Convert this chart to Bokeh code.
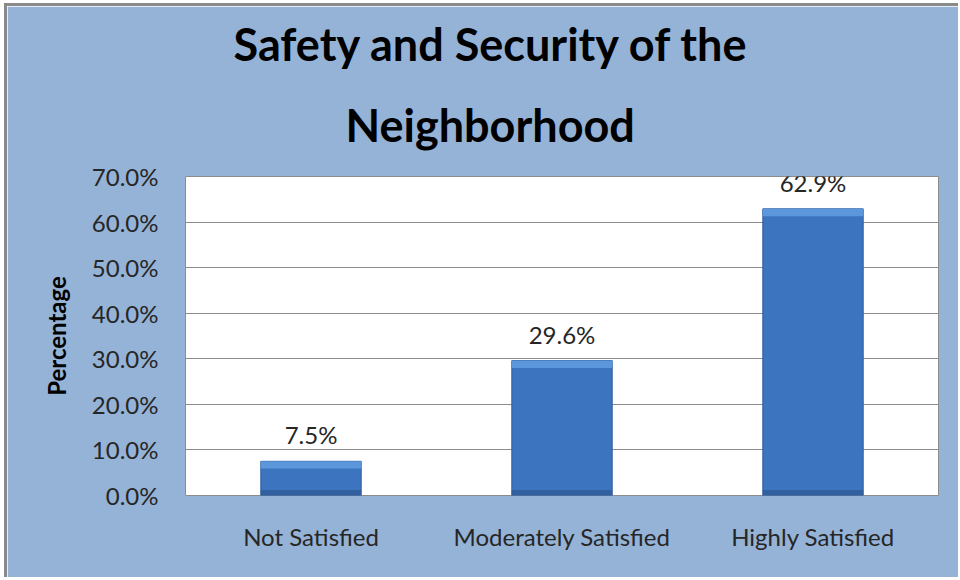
from bokeh.plotting import figure
from bokeh.models import ColumnDataSource, Title, PrintfTickFormatter, FixedTicker
from bokeh.embed import file_html
from bokeh.resources import INLINE
from bokeh.core.properties import value

categories = ["Not Satisfied", "Moderately Satisfied", "Highly Satisfied"]
percentages = [7.5, 29.6, 62.9]
y_ticks = [0, 10, 20, 30, 40, 50, 60, 70]
title_line1 = "Safety and Security of the"
title_line2 = "Neighborhood"
y_label = "Percentage"

FONT = "Lato"
BG = "#95B3D7"

labels = ["%.1f%%" % v for v in percentages]
src = ColumnDataSource(dict(
    x=categories, top=percentages, label=labels,
    band_bottom=[t - 1.6 for t in percentages],
    low_top=[1.2] * len(percentages),
))

p = figure(x_range=categories, y_range=(0, 70), width=954, height=574,
           output_backend="svg", toolbar_location=None,
           min_border_left=178, min_border_right=23,
           min_border_top=170, min_border_bottom=85,
           background_fill_color="white", border_fill_color=BG)
p.styles = {"border-top": "3px solid #8a8a8a", "border-left": "3px solid #8a8a8a",
            "margin-top": "3px", "margin-left": "4px"}

p.title.visible = False
p.add_layout(Title(text=title_line2, align="left", offset=160, text_font=FONT,
                   text_font_size="45px", text_font_style="bold",
                   text_color="black", standoff=50), "above")
p.add_layout(Title(text=title_line1, align="left", offset=48, text_font=FONT,
                   text_font_size="45px", text_font_style="bold",
                   text_color="black", standoff=0), "above")

# shadow
p.vbar(x="x", top=0, bottom=-0.7, width=0.4, source=src,
       fill_color="#5f7594", line_color=None, fill_alpha=0.45)
# main body
p.vbar(x="x", top="top", bottom=0, width=0.4, source=src,
       fill_color="#3D74BF", line_color="#2F5E9E", line_width=1)
# darker bottom band
p.vbar(x="x", top="low_top", bottom=0, width=0.4, source=src,
       fill_color="#30609F", line_color=None)
# top highlight band
p.vbar(x="x", top="top", bottom="band_bottom", width=0.4, source=src,
       fill_color="#5C97DB", line_color=None)

p.text(x="x", y="top", text="label", source=src, text_align="center",
       text_baseline="bottom", y_offset=-12, text_font=value(FONT),
       text_font_size="24px", text_color="#262626")

p.yaxis.ticker = FixedTicker(ticks=y_ticks)
p.yaxis.formatter = PrintfTickFormatter(format="%.1f%%")
p.yaxis.axis_label = y_label
p.yaxis.axis_label_text_font = FONT
p.yaxis.axis_label_text_font_style = "bold"
p.yaxis.axis_label_text_font_size = "24px"
p.yaxis.axis_label_text_color = "black"
p.yaxis.axis_label_standoff = 18
p.yaxis.major_label_standoff = 21

for ax in (p.xaxis, p.yaxis):
    ax.major_label_text_font = FONT
    ax.major_label_text_font_size = "24px"
    ax.major_label_text_color = "#262626"
    ax.axis_line_color = None
    ax.major_tick_line_color = None
    ax.minor_tick_line_color = None
p.xaxis.major_label_standoff = 20

p.xgrid.grid_line_color = None
p.ygrid.grid_line_color = "#8C8C8C"
p.ygrid.grid_line_width = 1
p.outline_line_color = "#8C8C8C"
p.outline_line_width = 1

open("out.html", "w").write(file_html(p, INLINE))
